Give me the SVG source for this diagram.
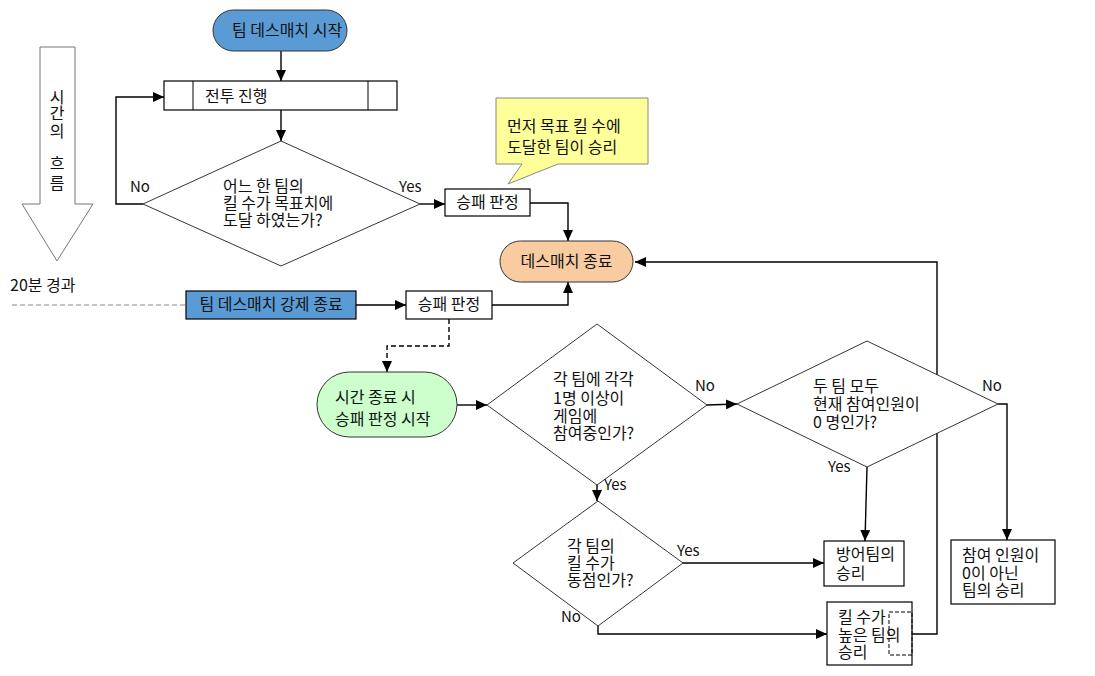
<svg xmlns="http://www.w3.org/2000/svg" width="1095" height="676" viewBox="0 0 1095 676">
<defs>
<style>
text{font-family:"Noto Sans CJK KR","Malgun Gothic","Noto Sans",sans-serif;font-size:16px;fill:#111;}
.lbl{font-size:15px;}
.box{fill:#fff;stroke:#000;stroke-width:1.2;}
.dia{fill:#fff;stroke:#000;stroke-width:0.8;}
.con{fill:none;stroke:#000;stroke-width:1.4;}
.dash{fill:none;stroke:#000;stroke-width:1.4;stroke-dasharray:5,3;}
.mid{text-anchor:middle;}
</style>
<marker id="ah" markerWidth="12" markerHeight="10" refX="11" refY="5" orient="auto" markerUnits="userSpaceOnUse">
<path d="M0,0 L11,5 L0,10 Z" fill="#000"/>
</marker>
</defs>
<rect width="1095" height="676" fill="#fff"/>

<g id="time-arrow">
<path d="M40,47 L75,47 L75,204 L93,204 L57,261 L22,204 L40,204 Z" fill="#fff" stroke="#777" stroke-width="1"/>
<text x="57" y="103" class="mid">시</text>
<text x="57" y="119" class="mid">간</text>
<text x="57" y="137" class="mid">의</text>
<text x="57" y="169" class="mid">흐</text>
<text x="57" y="189" class="mid">름</text>
</g>

<g id="time-20">
<text x="10" y="291">20분 경과</text>
<line x1="12" y1="305" x2="186" y2="305" stroke="#888" stroke-width="1" stroke-dasharray="5,3"/>
</g>

<g id="connectors">
<line class="con" x1="281" y1="51" x2="281" y2="81" marker-end="url(#ah)"/>
<line class="con" x1="281" y1="110" x2="281" y2="141" marker-end="url(#ah)"/>
<path class="con" d="M143,204 L116,204 L116,97 L164,97" marker-end="url(#ah)"/>
<line class="con" x1="420" y1="204" x2="445" y2="204" marker-end="url(#ah)"/>
<path class="con" d="M530,203 L568,203 L568,241" marker-end="url(#ah)"/>
<line class="con" x1="356" y1="305" x2="406" y2="305" marker-end="url(#ah)"/>
<path class="con" d="M492,305 L568,305 L568,282" marker-end="url(#ah)"/>
<path class="dash" d="M449,319 L449,346 L387,346 L387,372" marker-end="url(#ah)"/>
<line class="con" x1="457" y1="405" x2="487" y2="405" marker-end="url(#ah)"/>
<line class="con" x1="707" y1="405" x2="737" y2="404" marker-end="url(#ah)"/>
<path class="con" d="M998,404 L1007,404 L1007,540" marker-end="url(#ah)"/>
<line class="con" x1="867" y1="467" x2="865" y2="541" marker-end="url(#ah)"/>
<line class="con" x1="597" y1="485" x2="597" y2="501" marker-end="url(#ah)"/>
<line class="con" x1="683" y1="563" x2="824" y2="563" marker-end="url(#ah)"/>
<path class="con" d="M598,626 L598,634 L827,634" marker-end="url(#ah)"/>
<path class="con" d="M912,634 L937,634 L937,262 L635,262" marker-end="url(#ah)"/>
<text class="lbl" x="130" y="192">No</text>
<text class="lbl" x="399" y="192">Yes</text>
<text class="lbl" x="695" y="391">No</text>
<text class="lbl" x="604" y="490">Yes</text>
<text class="lbl" x="982" y="391">No</text>
<text class="lbl" x="828" y="472">Yes</text>
<text class="lbl" x="677" y="556">Yes</text>
<text class="lbl" x="561" y="622">No</text>
</g>

<g id="start">
<rect x="213" y="10" width="134" height="41" rx="20.5" fill="#5b9bd5" stroke="#333" stroke-width="1"/>
<text x="287" y="36" class="mid">팀 데스매치 시작</text>
</g>

<g id="battle">
<rect class="box" x="164" y="81" width="233" height="29"/>
<line x1="193" y1="81" x2="193" y2="110" stroke="#000" stroke-width="1"/>
<line x1="368" y1="81" x2="368" y2="110" stroke="#000" stroke-width="1"/>
<text x="205" y="102">전투 진행</text>
</g>

<g id="decision-target">
<polygon class="dia" points="281,141 420,204 281,266 143,204"/>
<text x="223" y="192">어느 한 팀의</text>
<text x="223" y="209">킬 수가 목표치에</text>
<text x="223" y="226">도달 하였는가?</text>
</g>

<g id="judge1">
<rect class="box" x="445" y="189" width="85" height="27"/>
<text x="487.5" y="208" class="mid">승패 판정</text>
</g>

<g id="callout">
<path d="M496,98 L648,98 L648,164 L558,164 L508,184 L522,164 L496,164 Z" fill="#ffff99" stroke="#888" stroke-width="1"/>
<text x="507" y="132">먼저 목표 킬 수에</text>
<text x="507" y="153">도달한 팀이 승리</text>
</g>

<g id="end">
<rect x="500" y="241" width="133" height="41" rx="20.5" fill="#f8cba0" stroke="#333" stroke-width="1"/>
<text x="566.5" y="267" class="mid">데스매치 종료</text>
</g>

<g id="force-end">
<rect x="186" y="291" width="170" height="28" fill="#5b9bd5" stroke="#000" stroke-width="1.2"/>
<text x="271" y="310" class="mid">팀 데스매치 강제 종료</text>
</g>

<g id="judge2">
<rect class="box" x="406" y="291" width="86" height="28"/>
<text x="449" y="310" class="mid">승패 판정</text>
</g>

<g id="timeout-start">
<rect x="317" y="372" width="140" height="65" rx="32.5" fill="#ccffcc" stroke="#333" stroke-width="1"/>
<text x="335" y="403">시간 종료 시</text>
<text x="335" y="425">승패 판정 시작</text>
</g>

<g id="decision-players">
<polygon class="dia" points="597,324 707,405 597,485 487,405"/>
<text x="553" y="385">각 팀에 각각</text>
<text x="553" y="404">1명 이상이</text>
<text x="553" y="422">게임에</text>
<text x="553" y="439">참여중인가?</text>
</g>

<g id="decision-zero">
<polygon class="dia" points="867,341 998,404 867,467 737,404"/>
<text x="813" y="392">두 팀 모두</text>
<text x="813" y="410">현재 참여인원이</text>
<text x="813" y="428">0 명인가?</text>
</g>

<g id="decision-tie">
<polygon class="dia" points="598,501 683,563 598,626 513,563"/>
<text x="567" y="552">각 팀의</text>
<text x="567" y="569">킬 수가</text>
<text x="567" y="586">동점인가?</text>
</g>

<g id="defense-win">
<rect class="box" x="824" y="541" width="80" height="45"/>
<text x="836" y="560">방어팀의</text>
<text x="836" y="579">승리</text>
</g>

<g id="nonzero-win">
<rect class="box" x="951" y="540" width="104" height="64"/>
<text x="962" y="561">참여 인원이</text>
<text x="962" y="579">0이 아닌</text>
<text x="962" y="596">팀의 승리</text>
</g>

<g id="kill-win">
<rect class="box" x="827" y="602" width="85" height="63"/>
<rect x="889" y="612" width="23" height="43" fill="none" stroke="#000" stroke-width="1" stroke-dasharray="4,2"/>
<text x="838" y="623">킬 수가</text>
<text x="838" y="641">높은 팀의</text>
<text x="838" y="658">승리</text>
</g>
</svg>
